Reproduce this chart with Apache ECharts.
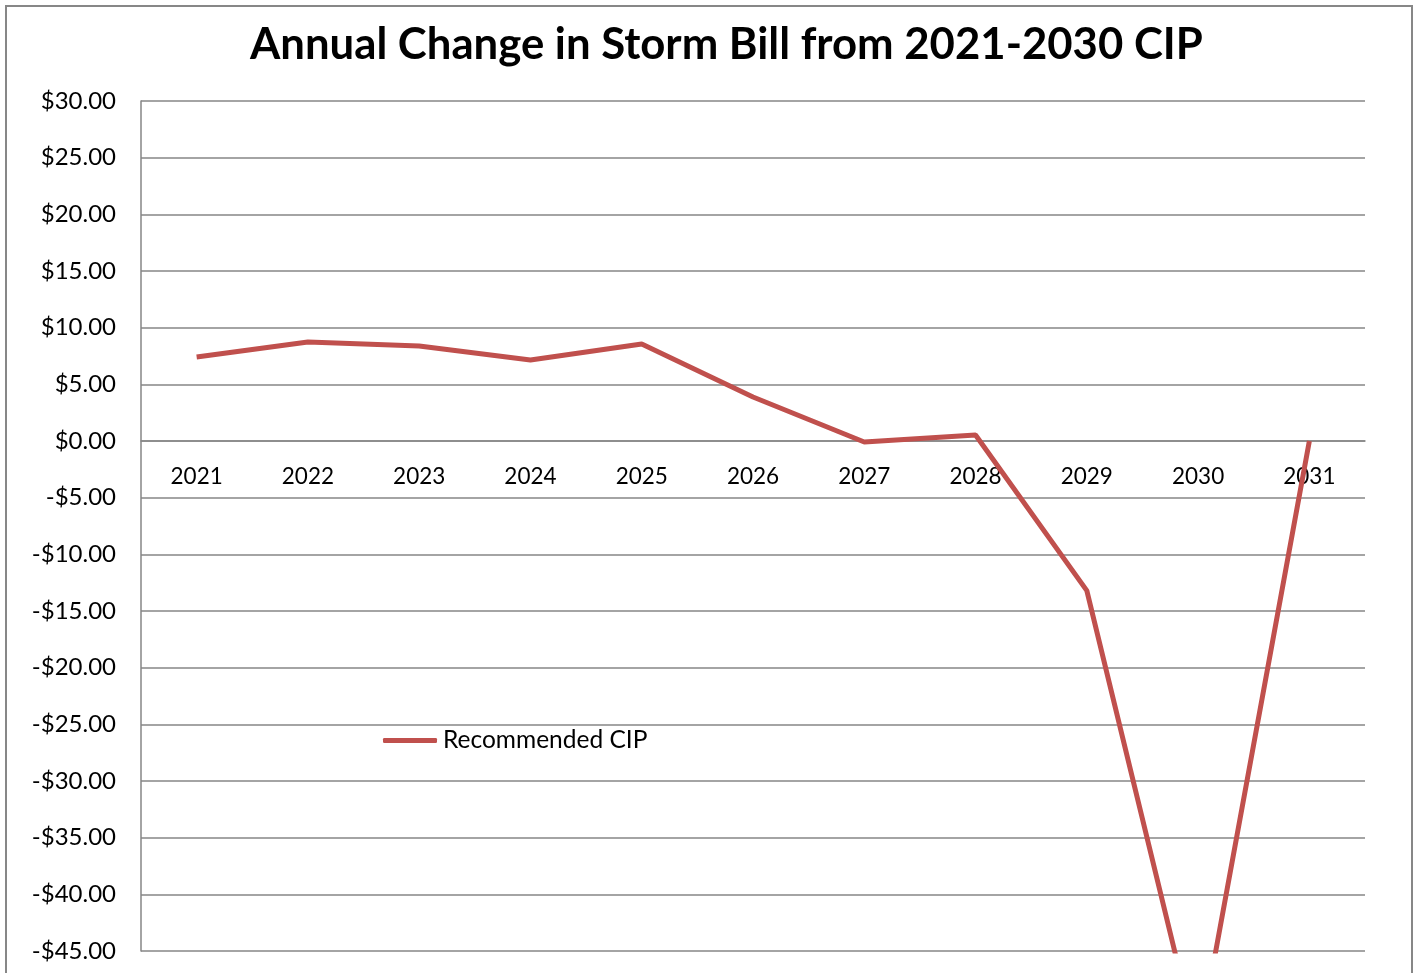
<!DOCTYPE html>
<html>
<head>
<meta charset="utf-8">
<script src="https://cdn.jsdelivr.net/npm/echarts@6/dist/echarts.min.js"></script>
<style>
html,body{margin:0;padding:0;background:#fff;}
#chart{width:1420px;height:973px;}
</style>
</head>
<body>
<div id="chart"></div>
<script>
const categories = ['2021','2022','2023','2024','2025','2026','2027','2028','2029','2030','2031'];
const recommendedCIP = [7.41, 8.74, 8.38, 7.15, 8.56, 3.88, -0.09, 0.53, -13.2, -53.5, 0];
const yMin = -45, yMax = 30, yStep = 5;

const W = 1420, H = 973;
const gridTop = 101, gridBottom = 22, gridLeft = 141, gridRight = 55;
const plotH = H - gridTop - gridBottom;
// place the category axis where y = 0 crosses the plot
const zeroOffset = -plotH * (0 - yMin) / (yMax - yMin);

const chart = echarts.init(document.getElementById('chart'));
const font = 'Lato, "Open Sans", sans-serif';
chart.setOption({
  animation: false,
  backgroundColor: '#fff',
  textStyle: { fontFamily: font },
  title: {
    text: 'Annual Change in Storm Bill from 2021-2030 CIP',
    left: 245,
    top: 18,
    textStyle: { fontSize: 43.7, fontWeight: 'bold', color: '#000', fontFamily: font }
  },
  graphic: [{
    type: 'rect',
    shape: { x: 6, y: 6, width: 1406, height: 990 },
    style: { fill: 'none', stroke: '#878787', lineWidth: 2 },
    silent: true, z: -1
  }],
  legend: {
    left: 378, top: 723,
    icon: 'roundRect',
    itemWidth: 54, itemHeight: 5, itemGap: 4,
    textStyle: { fontSize: 24.5, color: '#000', fontFamily: font, padding: [0,0,0,1] },
    data: ['Recommended CIP']
  },
  grid: { left: gridLeft, right: gridRight, top: gridTop, bottom: gridBottom, containLabel: false, outerBoundsMode: 'none' },
  xAxis: {
    type: 'category',
    data: categories,
    position: 'bottom',
    offset: zeroOffset,
    boundaryGap: true,
    axisLine: { show: true, onZero: false, lineStyle: { color: '#868686', width: 1.5 } },
    axisTick: { show: false },
    axisLabel: { fontSize: 22.5, color: '#000', margin: 24, fontFamily: font, interval: 0 },
    splitLine: { show: false }
  },
  yAxis: {
    type: 'value',
    min: yMin, max: yMax, interval: yStep,
    axisLine: { show: true, lineStyle: { color: '#868686', width: 1.5 } },
    axisTick: { show: false },
    axisLabel: {
      fontSize: 24, color: '#000', margin: 25, fontFamily: font,
      formatter: v => (v < 0 ? '-$' : '$') + Math.abs(v).toFixed(2)
    },
    splitLine: { show: true, lineStyle: { color: '#868686', width: 1.5 } }
  },
  series: [{
    name: 'Recommended CIP',
    type: 'line',
    data: recommendedCIP,
    symbol: 'none',
    showSymbol: false,
    clip: true,
    z: 3,
    lineStyle: { color: '#c0504d', width: 5 },
    itemStyle: { color: '#c0504d' }
  }]
});
</script>
</body>
</html>
